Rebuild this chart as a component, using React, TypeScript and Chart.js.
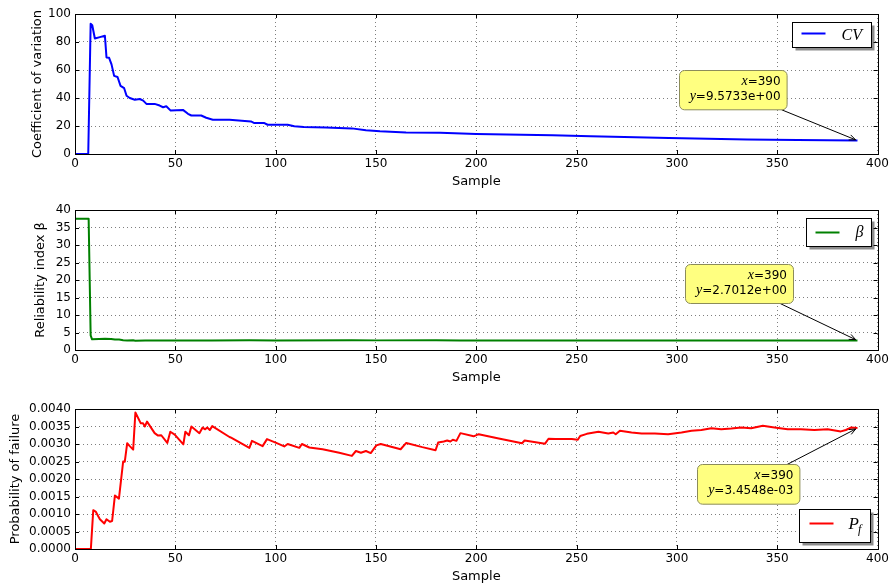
import React, { useEffect, useRef } from 'react';
import { Chart, registerables } from 'chart.js';

Chart.register(...registerables);

const SANS = "'DejaVu Sans', 'Liberation Sans', sans-serif";
const MATH = "'Liberation Serif', 'DejaVu Serif', serif";

const xTicks = [0, 50, 100, 150, 200, 250, 300, 350, 400];
const cvTicks = [0, 20, 40, 60, 80, 100];
const betaTicks = [0, 5, 10, 15, 20, 25, 30, 35, 40];
const pfTicks = [0, 0.0005, 0.001, 0.0015, 0.002, 0.0025, 0.003, 0.0035, 0.004];

const cvSample = [0, 6.6, 7.8, 8.6, 9.9, 12.4, 14.9, 15.7, 17, 18.2, 19.5, 21.2, 22.7, 24.5, 25.7, 27.3, 29.8, 32.3, 34, 35.6, 39.7, 42.2, 43.9, 45.5, 47.7, 53.8, 56.3, 58, 62.9, 65.4, 68.7, 77, 87.7, 89.4, 94.4, 96, 106, 109.3, 114, 125, 138, 145, 152, 165, 182, 200, 238, 257, 296, 335, 360, 390];
const cvValue = [0, 0, 93, 92, 82.5, 83.5, 84.5, 69, 68.7, 64, 55.8, 55, 48.7, 47, 41.6, 40, 38.8, 39.3, 38.1, 35.8, 35.8, 34.6, 33.4, 34.1, 31, 31.5, 28.7, 27.5, 27.5, 25.9, 24.5, 24.5, 23.3, 22.1, 22.1, 20.9, 20.9, 19.8, 19.3, 19.0, 18.3, 17.0, 16.2, 15.4, 15.2, 14.3, 13.4, 12.7, 11.5, 10.4, 10.0, 9.5733];

const betaSample = [0, 6.8, 7.8, 8.5, 12, 15, 18, 19.9, 22, 24, 26, 29, 30, 35, 40, 46, 55, 68, 87, 100, 138, 150, 180, 192, 222, 260, 300, 342, 390];
const betaValue = [37.5, 37.5, 4.2, 3.05, 3.15, 3.2, 3.15, 2.97, 2.98, 2.81, 2.74, 2.76, 2.66, 2.7, 2.71, 2.74, 2.71, 2.7, 2.76, 2.74, 2.79, 2.75, 2.76, 2.72, 2.74, 2.71, 2.72, 2.7, 2.7012];

const pfSample = [0, 7.9, 9.1, 10.3, 12.4, 14.6, 15.7, 17.4, 18.5, 19.9, 21.9, 24, 24.8, 26, 27.3, 29, 30.1, 32.8, 33.9, 34.8, 35.9, 39.7, 41.4, 43, 46, 47.5, 49.7, 54, 55, 56.8, 58, 62, 63.6, 64.9, 65.9, 67.2, 68.4, 77, 77.8, 86.9, 88.2, 93.5, 95.7, 100, 104.3, 106, 111.8, 113.1, 116.8, 123.4, 131.7, 138, 140, 142.5, 145, 147.4, 150.2, 152.4, 162.3, 165.1, 173.1, 179.7, 181, 183.8, 185.5, 187.1, 188.3, 190.1, 192.1, 198.7, 201.2, 211.2, 222.8, 224.1, 234.3, 236, 239.4, 247.6, 250.6, 251.8, 255.1, 260.9, 265.8, 268.3, 269.5, 271.6, 277.4, 282.4, 289, 295.6, 302.3, 307.3, 312.2, 317.2, 322.1, 327.1, 332.1, 337, 341.1, 342.8, 348.6, 355.2, 361.8, 368.5, 375.1, 381.7, 384.2, 386.7, 390];
const pfValue = [0, 0, 0.00111, 0.00107, 0.00085, 0.00073, 0.00085, 0.00078, 0.0008, 0.00153, 0.00144, 0.0025, 0.00249, 0.00302, 0.00294, 0.00284, 0.0039, 0.00359, 0.00359, 0.0035, 0.00364, 0.00331, 0.00324, 0.00325, 0.00303, 0.00335, 0.00327, 0.00299, 0.00335, 0.00325, 0.0035, 0.00331, 0.00347, 0.00342, 0.00347, 0.0034, 0.00351, 0.0032, 0.00318, 0.00289, 0.00309, 0.00294, 0.00314, 0.00304, 0.00293, 0.003, 0.00289, 0.003, 0.0029, 0.00285, 0.00275, 0.00266, 0.0028, 0.00275, 0.0028, 0.00274, 0.00296, 0.003, 0.00285, 0.00303, 0.00291, 0.00282, 0.00304, 0.00307, 0.0031, 0.00307, 0.00312, 0.00309, 0.00331, 0.00322, 0.00328, 0.00316, 0.00302, 0.0031, 0.00301, 0.00315, 0.00314, 0.00314, 0.00312, 0.00323, 0.00329, 0.00335, 0.0033, 0.00333, 0.00328, 0.00338, 0.00333, 0.0033, 0.0033, 0.00328, 0.00333, 0.00338, 0.0034, 0.00345, 0.00342, 0.00344, 0.00347, 0.00345, 0.0035, 0.00352, 0.00347, 0.00342, 0.00342, 0.0034, 0.00342, 0.00336, 0.0034, 0.00347, 0.0034548];

function expFmt(v: number): string {
  const s = v.toExponential(4);
  const [m, e] = s.split('e');
  const sign = e[0];
  const digits = e.slice(1).padStart(2, '0');
  return `${m}e${sign}${digits}`;
}

type LegendSpec = { anchor: 'top' | 'bottom'; rightGap: number; vGap: number; w: number; h: number; lineDx: number; lineDy: number; textDx: number; textDy: number; label: 'CV' | 'beta' | 'Pf' };
type AnnotSpec = { dx: number; dy: number; w: number; h: number };
type PanelSpec = {
  key: string; top: number; xs: number[]; ys: number[]; color: string; yTicks: number[]; yMin: number; yMax: number;
  yTitle: string; yTitlePad: number; fmt: (v: number) => string; legend: LegendSpec; annot: AnnotSpec;
};

function roundRectPath(ctx: CanvasRenderingContext2D, x: number, y: number, w: number, h: number, r: number) {
  ctx.beginPath();
  ctx.moveTo(x + r, y);
  ctx.lineTo(x + w - r, y);
  ctx.arcTo(x + w, y, x + w, y + r, r);
  ctx.lineTo(x + w, y + h - r);
  ctx.arcTo(x + w, y + h, x + w - r, y + h, r);
  ctx.lineTo(x + r, y + h);
  ctx.arcTo(x, y + h, x, y + h - r, r);
  ctx.lineTo(x, y + r);
  ctx.arcTo(x, y, x + r, y, r);
  ctx.closePath();
}

function drawPair(ctx: CanvasRenderingContext2D, v: string, rest: string, rightX: number, baseY: number) {
  ctx.textBaseline = 'alphabetic';
  ctx.textAlign = 'right';
  ctx.font = `12px ${SANS}`;
  ctx.fillText(rest, rightX, baseY);
  const w = ctx.measureText(rest).width;
  ctx.font = `italic 14px ${MATH}`;
  ctx.fillText(v, rightX - w, baseY);
}

function overlay(p: PanelSpec) {
  return {
    id: 'overlay_' + p.key,
    afterDatasetsDraw(chart: any) {
      const { ctx, chartArea: ca, scales } = chart;
      const xs = scales.x;
      const ys = scales.y;
      ctx.save();
      ctx.setLineDash([]);
      ctx.strokeStyle = '#000';
      ctx.lineWidth = 1;
      ctx.beginPath();
      xs.ticks.forEach((t: any) => {
        const px = Math.round(xs.getPixelForValue(t.value)) + 0.5;
        ctx.moveTo(px, ca.top);
        ctx.lineTo(px, ca.top + 4);
        ctx.moveTo(px, ca.bottom);
        ctx.lineTo(px, ca.bottom - 4);
      });
      ys.ticks.forEach((t: any) => {
        const py = Math.round(ys.getPixelForValue(t.value)) + 0.5;
        ctx.moveTo(ca.left, py);
        ctx.lineTo(ca.left + 4, py);
        ctx.moveTo(ca.right, py);
        ctx.lineTo(ca.right - 4, py);
      });
      ctx.stroke();
      ctx.strokeRect(Math.round(ca.left) + 0.5, Math.round(ca.top) + 0.5, Math.round(ca.right - ca.left), Math.round(ca.bottom - ca.top));
      ctx.restore();
    },
    afterDraw(chart: any) {
      const { ctx, chartArea: ca, scales } = chart;
      const xs = scales.x;
      const ys = scales.y;
      ctx.save();
      // legend
      const L = p.legend;
      const lx = Math.round(ca.right - L.rightGap - L.w) + 0.5;
      const ly = Math.round(L.anchor === 'top' ? ca.top + L.vGap : ca.bottom - L.vGap - L.h) + 0.5;
      ctx.fillStyle = 'rgba(0,0,0,0.45)';
      ctx.fillRect(lx + 3, ly + 3, L.w, L.h);
      ctx.fillStyle = '#fff';
      ctx.fillRect(lx, ly, L.w, L.h);
      ctx.strokeStyle = '#000';
      ctx.lineWidth = 1;
      ctx.strokeRect(lx, ly, L.w, L.h);
      ctx.strokeStyle = p.color;
      ctx.lineWidth = 2;
      ctx.beginPath();
      ctx.moveTo(lx + L.lineDx, ly + L.lineDy);
      ctx.lineTo(lx + L.lineDx + 24, ly + L.lineDy);
      ctx.stroke();
      ctx.fillStyle = '#000';
      ctx.textAlign = 'left';
      ctx.textBaseline = 'alphabetic';
      if (L.label === 'CV') {
        ctx.font = `italic 16px ${MATH}`;
        ctx.fillText('CV', lx + L.textDx, ly + L.textDy);
      } else if (L.label === 'beta') {
        ctx.font = `italic 16px ${MATH}`;
        ctx.fillText('β', lx + L.textDx, ly + L.textDy);
      } else {
        ctx.font = `italic 17px ${MATH}`;
        ctx.fillText('P', lx + L.textDx, ly + L.textDy);
        const pw = ctx.measureText('P').width;
        ctx.font = `italic 12px ${MATH}`;
        ctx.fillText('f', lx + L.textDx + pw - 1, ly + L.textDy + 4);
      }
      // annotation
      const lastX = p.xs[p.xs.length - 1];
      const lastY = p.ys[p.ys.length - 1];
      const px = xs.getPixelForValue(lastX);
      const py = ys.getPixelForValue(lastY);
      const A = p.annot;
      const bx = Math.round(px + A.dx) + 0.5;
      const by = Math.round(py + A.dy) + 0.5;
      const cx = bx + A.w / 2;
      const cy = by + A.h / 2;
      const ddx = px - cx;
      const ddy = py - cy;
      const t = Math.min(A.w / 2 / Math.abs(ddx || 1e-6), A.h / 2 / Math.abs(ddy || 1e-6));
      const sx = cx + ddx * t;
      const sy = cy + ddy * t;
      const len = Math.hypot(px - sx, py - sy);
      const ux = (px - sx) / len;
      const uy = (py - sy) / len;
      const ex = px - ux * 2;
      const ey = py - uy * 2;
      ctx.strokeStyle = '#000';
      ctx.lineWidth = 1;
      ctx.beginPath();
      ctx.moveTo(sx, sy);
      ctx.lineTo(ex, ey);
      const ang = Math.atan2(uy, ux);
      const hl = 7;
      const ha = 0.4;
      ctx.moveTo(ex - hl * Math.cos(ang - ha), ey - hl * Math.sin(ang - ha));
      ctx.lineTo(ex, ey);
      ctx.lineTo(ex - hl * Math.cos(ang + ha), ey - hl * Math.sin(ang + ha));
      ctx.stroke();
      roundRectPath(ctx, bx, by, A.w, A.h, 5);
      ctx.fillStyle = '#ffff80';
      ctx.fill();
      ctx.strokeStyle = '#8c8c5a';
      ctx.stroke();
      ctx.fillStyle = '#000';
      drawPair(ctx, 'x', '=' + String(lastX), bx + A.w - 6.5, by + 14);
      drawPair(ctx, 'y', '=' + expFmt(lastY), bx + A.w - 6.5, by + 29);
      ctx.restore();
    },
  };
}

const panels: PanelSpec[] = [
  {
    key: 'cv', top: 0, xs: cvSample, ys: cvValue, color: '#0000ff', yTicks: cvTicks, yMin: 0, yMax: 100,
    yTitle: 'Coefficient of variation', yTitlePad: 30, fmt: (v) => String(v),
    legend: { anchor: 'top', rightGap: 7, vGap: 8, w: 79, h: 25, lineDx: 9, lineDy: 11, textDx: 49, textDy: 17, label: 'CV' },
    annot: { dx: -178, dy: -70.6, w: 107.6, h: 39.3 },
  },
  {
    key: 'beta', top: 196, xs: betaSample, ys: betaValue, color: '#008000', yTicks: betaTicks, yMin: 0, yMax: 40,
    yTitle: 'Reliability index β', yTitlePad: 33, fmt: (v) => String(v),
    legend: { anchor: 'top', rightGap: 7, vGap: 8, w: 65, h: 28, lineDx: 9, lineDy: 14, textDx: 49, textDy: 18, label: 'beta' },
    annot: { dx: -172, dy: -76.5, w: 108, h: 39 },
  },
  {
    key: 'pf', top: 395, xs: pfSample, ys: pfValue, color: '#ff0000', yTicks: pfTicks, yMin: 0, yMax: 0.004,
    yTitle: 'Probability of failure', yTitlePad: 8, fmt: (v) => v.toFixed(4),
    legend: { anchor: 'bottom', rightGap: 8, vGap: 7, w: 71, h: 33, lineDx: 10, lineDy: 14, textDx: 49, textDy: 19, label: 'Pf' },
    annot: { dx: -160.6, dy: 36.2, w: 102.4, h: 39.7 },
  },
];

function buildConfig(p: PanelSpec): any {
  const grid = { color: 'rgba(0,0,0,0.5)', lineWidth: 1, drawTicks: false };
  const border = { display: false, dash: [1, 3] };
  return {
    type: 'line',
    data: {
      datasets: [{
        data: p.xs.map((x, i) => ({ x, y: p.ys[i] })),
        borderColor: p.color, backgroundColor: p.color, borderWidth: 2, pointRadius: 0,
        tension: 0, fill: false, clip: false, borderJoinStyle: 'round',
      }],
    },
    options: {
      responsive: false, animation: false, devicePixelRatio: 1, events: [],
      layout: { padding: { top: 14, right: 12, bottom: 0, left: 0 } },
      plugins: { legend: { display: false }, tooltip: { enabled: false } },
      scales: {
        x: {
          type: 'linear', min: 0, max: 400,
          afterBuildTicks: (s: any) => { s.ticks = xTicks.map((v) => ({ value: v })); },
          afterFit: (s: any) => { s.height = 43; },
          grid, border,
          ticks: { color: '#000', font: { family: SANS, size: 12 }, padding: 3, maxRotation: 0, autoSkip: false },
          title: { display: true, text: 'Sample', color: '#000', font: { family: SANS, size: 13 }, padding: { top: 0, bottom: 8 } },
        },
        y: {
          type: 'linear', min: p.yMin, max: p.yMax,
          afterBuildTicks: (s: any) => { s.ticks = p.yTicks.map((v) => ({ value: v })); },
          afterFit: (s: any) => { s.width = 75; },
          grid, border,
          ticks: { color: '#000', font: { family: SANS, size: 12 }, padding: 4, autoSkip: false, callback: (v: any) => p.fmt(Number(v)) },
          title: { display: true, text: p.yTitle, color: '#000', font: { family: SANS, size: 13 }, padding: { top: p.yTitlePad, bottom: 0 } },
        },
      },
    },
    plugins: [overlay(p)],
  };
}

function Panel({ spec }: { spec: PanelSpec }) {
  const ref = useRef<HTMLCanvasElement | null>(null);
  useEffect(() => {
    if (!ref.current) return;
    const chart = new Chart(ref.current, buildConfig(spec));
    return () => chart.destroy();
  }, [spec]);
  return (
    <canvas
      ref={ref}
      width={892}
      height={197}
      style={{ position: 'absolute', left: 0, top: spec.top, width: 892, height: 197 }}
    />
  );
}

export default function App() {
  return (
    <div style={{ position: 'fixed', left: 0, top: 0, width: 892, height: 584, overflow: 'hidden', background: '#fff' }}>
      {panels.map((p) => (
        <Panel key={p.key} spec={p} />
      ))}
    </div>
  );
}
